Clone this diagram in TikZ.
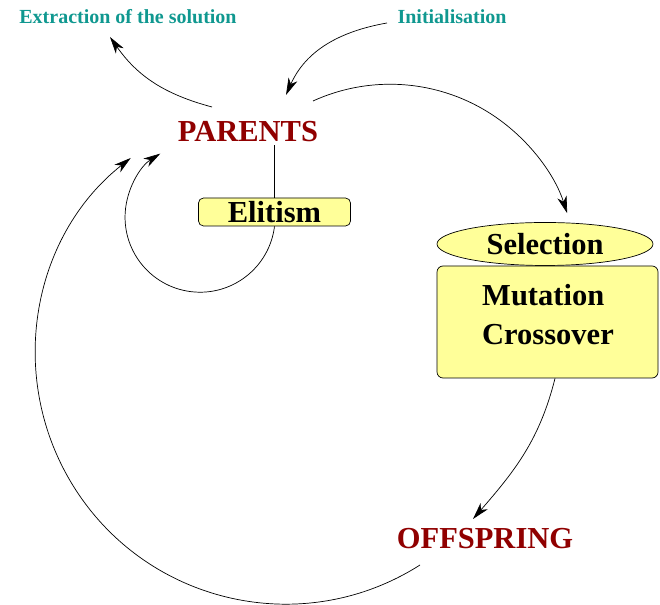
\documentclass[tikz,border=0pt]{standalone}
\usepackage{fontspec}
\setmainfont{Liberation Serif}
\usepackage{xcolor}
\usepackage{tikz}
\usetikzlibrary{arrows.meta,shapes.geometric}
\definecolor{stepteal}{HTML}{109890}
\definecolor{statered}{HTML}{900000}
\definecolor{boxyellow}{HTML}{FFFF99}
\tikzset{
	phase/.style={font=\fontsize{30.5}{36}\selectfont\bfseries, text=statered, inner sep=3pt},
	action/.style={font=\fontsize{20}{24}\selectfont\bfseries, text=stepteal, inner sep=3pt},
	opbox/.style={draw, line width=0.7pt, fill=boxyellow, font=\fontsize{30.5}{36}\selectfont\bfseries, inner sep=0pt},
	flow/.style={line width=0.7pt, -{Stealth[length=17pt,width=9.5pt,inset=5pt]}}
}

\begin{document}
\begin{tikzpicture}[x=1pt,y=1pt]
	\useasboundingbox (0,0) rectangle (660,604);
	\node[action] (extraction) at (128,587.5){Extraction of the solution};
	\node[action] (initialisation) at (452,587.5){Initialisation};
	\node[phase] (parents) at (248,472){PARENTS};
	\node[phase] (offspring) at (485,65){OFFSPRING};
	\node[opbox, rounded corners=5pt, minimum width=152pt, minimum height=28pt] (elitism) at (274.5,392){Elitism};
	\node[opbox, ellipse, minimum width=216pt, minimum height=43pt] (selection) at (545,360){Selection};
	\node[opbox, rounded corners=6pt, minimum width=221pt, minimum height=112pt] (operators) at (547.5,282){};
	\node[font=\fontsize{30.5}{39}\selectfont\bfseries, align=left, inner sep=0pt] (opnames) at (548,289.5){Mutation\\Crossover};
	\draw[flow] ([shift={(-65,-6.5)}]initialisation.center) to[out=190,in=66] ([shift={(38,37)}]parents.center);
	\draw[flow] ([shift={(-36,25)}]parents.center) to[out=165,in=-55] ([shift={(-18,-20.5)}]extraction.center);
	\draw[flow] ([shift={(65,31)}]parents.center) arc[start angle=114.5, end angle=17.85, radius=186pt];
	\draw[line width=0.7pt] (parents.south -| elitism.north) -- (elitism.north);
	\draw[flow] (elitism.south) arc[start angle=-7, end angle=-238, radius=75pt];
	\draw[flow] ([xshift=7.5pt]operators.south) to[out=256,in=49] ([shift={(-12,20)}]offspring.center);
	\draw[flow] ([shift={(-65,-26)}]offspring.center) arc[start angle=302.5, end angle=128.3, radius=250pt];
\end{tikzpicture}
\end{document}
